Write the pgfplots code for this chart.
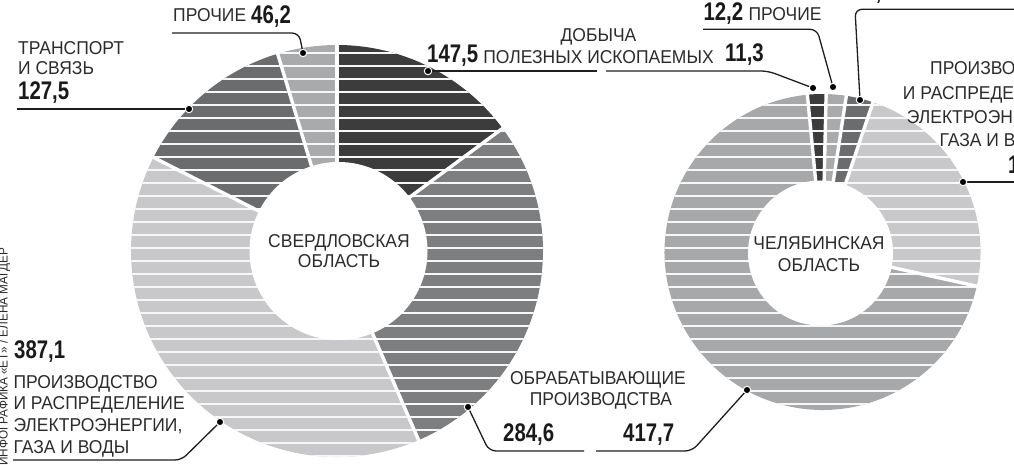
\documentclass[border=0pt]{standalone}
\usepackage{pgfplots}
\pgfplotsset{compat=1.18}
\usepackage{fontspec}
\setmainfont{Liberation Sans}
\newfontfamily\labf{Liberation Sans}[FakeStretch=0.94]
\newfontfamily\numf{Liberation Sans}[FakeStretch=0.8]
\definecolor{cA}{HTML}{3C3C3C}
\definecolor{cB}{HTML}{7D7E80}
\definecolor{cC}{HTML}{C8C8CA}
\definecolor{cD}{HTML}{6B6C6E}
\definecolor{cE}{HTML}{A9AAAC}
\definecolor{cF}{HTML}{A7A8AA}
\definecolor{labc}{HTML}{2B2B2B}
\definecolor{numc}{HTML}{1A1A1A}
\definecolor{linec}{HTML}{1E1E1E}
\newcommand\LS{\fontsize{18.6}{21.7}\selectfont\labf\color{labc}}
\newcommand\NS{\fontsize{25.5}{28}\selectfont\numf\bfseries\color{numc}}

% build sector drawing commands from the values
\newcommand\builddonut[7]{% #1 fills, #2 cx, #3 cy, #4 R, #5 start, #6 list, #7 separators
  \xdef\dsum{0}%
  \foreach \v/\c in {#6}{\pgfmathsetmacro\t{\dsum+\v}\xdef\dsum{\t}}%
  \xdef\dang{#5}%
  \gdef#1{}\gdef#7{}%
  \foreach \v/\c in {#6}{%
    \pgfmathsetmacro\na{\dang-\v/\dsum*360}%
    \xdef#1{\unexpanded\expandafter{#1}\noexpand\fill[fill=\c] (axis cs:#2,#3) -- ++(\dang:#4pt) arc[start angle=\dang,end angle=\na,radius=#4pt] -- cycle;}%
    \xdef#7{\unexpanded\expandafter{#7}\noexpand\draw[white,line width=3.4pt] (axis cs:#2,#3) -- ++(\dang:#4pt+4pt);}%
    \xdef\dang{\na}%
  }%
}
\builddonut{\donutL}{337}{214}{206}{90}{147.5/cA,284.6/cB,387.1/cC,127.5/cD,46.2/cE}{\sepL}
\builddonut{\donutR}{822.5}{213}{158}{95.5}{11.3/cA,12.2/cE,16.5/cD,139.0/cC,417.7/cF}{\sepR}
\gdef\stripes{}
\foreach \k in {-12,...,23}{%
  \pgfmathsetmacro\yy{308-13*\k}%
  \xdef\stripes{\unexpanded\expandafter{\stripes}\noexpand\draw[white!94!gray,line width=1.3pt] (axis cs:0,\yy) -- (axis cs:1014,\yy);}%
}

\begin{document}
\begin{tikzpicture}
\begin{axis}[x=1pt,y=1pt,xmin=0,xmax=1014,ymin=0,ymax=465,hide axis,clip=false]
\coordinate (BL) at (axis cs:0,0);
\coordinate (TR) at (axis cs:1014,465);
% left donut
\donutL
\begin{scope}\clip (axis cs:337,214) circle[radius=206pt]; \stripes \end{scope}
\sepL
\fill[white] (axis cs:338.5,214) circle[radius=89pt];
% right donut
\donutR
\begin{scope}\clip (axis cs:822.5,213) circle[radius=158pt]; \stripes \end{scope}
\sepR
\fill[white] (axis cs:820.5,212) circle[radius=72.5pt];

% leader lines
\begin{scope}[linec,line width=1.3pt,rounded corners=7pt]
\draw (axis cs:172,432) -- (axis cs:299,432) -- (axis cs:303,412);
\draw (axis cs:17,356) -- (axis cs:189,356);
\draw (axis cs:428,394) -- (axis cs:597,394);
\draw (axis cs:606,394) -- (axis cs:768,394) -- (axis cs:813,377);
\draw (axis cs:703,435.7) -- (axis cs:817,435.7) -- (axis cs:833,378);
\draw (axis cs:860,365) -- (axis cs:855,455.7) -- (axis cs:1030,455.7);
\draw (axis cs:963,283) -- (axis cs:1030,283);
\draw (axis cs:220,43) -- (axis cs:182,5) -- (axis cs:13,5);
\draw (axis cs:468,58) -- (axis cs:489,14) -- (axis cs:584,14);
\draw (axis cs:596,14) -- (axis cs:692,14) -- (axis cs:747,75);
\end{scope}
\addplot[only marks, mark=*, mark size=3.7pt, mark options={fill=black,draw=white,line width=1pt}]
 coordinates {(303,412) (189,356) (428,394) (813,377) (833,378) (860,365) (963,283) (220,43) (468,58) (747,75)};

% centre labels
\node[anchor=base,inner sep=0] at (axis cs:339,217) {\LS СВЕРДЛОВСКАЯ};
\node[anchor=base,inner sep=0] at (axis cs:339,197) {\LS ОБЛАСТЬ};
\node[anchor=base,inner sep=0] at (axis cs:819,215) {\LS ЧЕЛЯБИНСКАЯ};
\node[anchor=base,inner sep=0] at (axis cs:819,193.3) {\LS ОБЛАСТЬ};

% left donut labels
\node[anchor=base west,inner sep=0] at (axis cs:173,443.3) {\LS ПРОЧИЕ};
\node[anchor=base west,inner sep=0] at (axis cs:251,441.7) {\NS 46,2};
\node[anchor=base west,inner sep=0] at (axis cs:18,410) {\LS ТРАНСПОРТ};
\node[anchor=base west,inner sep=0] at (axis cs:18,390) {\LS И СВЯЗЬ};
\node[anchor=base west,inner sep=0] at (axis cs:18,365) {\NS 127,5};
\node[anchor=base west,inner sep=0] at (axis cs:427,402) {\NS 147,5};
\node[anchor=base,inner sep=0] at (axis cs:598.5,423.3) {\LS ДОБЫЧА};
\node[anchor=base,inner sep=0] at (axis cs:598.5,401.7) {\LS ПОЛЕЗНЫХ ИСКОПАЕМЫХ};
\node[anchor=base west,inner sep=0] at (axis cs:725,403) {\NS 11,3};
\node[anchor=base west,inner sep=0] at (axis cs:14,106.7) {\NS 387,1};
\node[anchor=base west,inner sep=0] at (axis cs:13.3,76.7) {\LS ПРОИЗВОДСТВО};
\node[anchor=base west,inner sep=0] at (axis cs:13.3,55) {\LS И РАСПРЕДЕЛЕНИЕ};
\node[anchor=base west,inner sep=0] at (axis cs:13.3,33.3) {\LS ЭЛЕКТРОЭНЕРГИИ,};
\node[anchor=base west,inner sep=0] at (axis cs:13.3,11.7) {\LS ГАЗА И ВОДЫ};
\node[anchor=base,inner sep=0] at (axis cs:598,80) {\LS ОБРАБАТЫВАЮЩИЕ};
\node[anchor=base,inner sep=0] at (axis cs:601,59) {\LS ПРОИЗВОДСТВА};
\node[anchor=base west,inner sep=0] at (axis cs:503,23) {\NS 284,6};
\node[anchor=base west,inner sep=0] at (axis cs:623,23) {\NS 417,7};
% right donut labels
\node[anchor=base west,inner sep=0] at (axis cs:703.3,444.3) {\NS 12,2};
\node[anchor=base west,inner sep=0] at (axis cs:748.3,444.3) {\LS ПРОЧИЕ};
\node[anchor=base west,inner sep=0] at (axis cs:853,465.5) {\NS 16,5};
\node[anchor=base west,inner sep=0] at (axis cs:930,390) {\LS ПРОИЗВОДСТВО};
\node[anchor=base west,inner sep=0] at (axis cs:902.7,365) {\LS И РАСПРЕДЕЛЕНИЕ};
\node[anchor=base west,inner sep=0] at (axis cs:906.7,341.7) {\LS ЭЛЕКТРОЭНЕРГИИ,};
\node[anchor=base west,inner sep=0] at (axis cs:939.3,318.3) {\LS ГАЗА И ВОДЫ};
\node[anchor=base west,inner sep=0] at (axis cs:1008,291.7) {\NS 139,0};
% credit
\node[anchor=base west,rotate=90,inner sep=0] at (axis cs:7.5,-1) {\fontsize{12.5}{13}\selectfont\labf\color{labc} ИНФОГРАФИКА «ЕТ» / ЕЛЕНА МАГДЕР};
\end{axis}
\pgfresetboundingbox
\path[use as bounding box] (BL) rectangle (TR);
\end{tikzpicture}
\end{document}
